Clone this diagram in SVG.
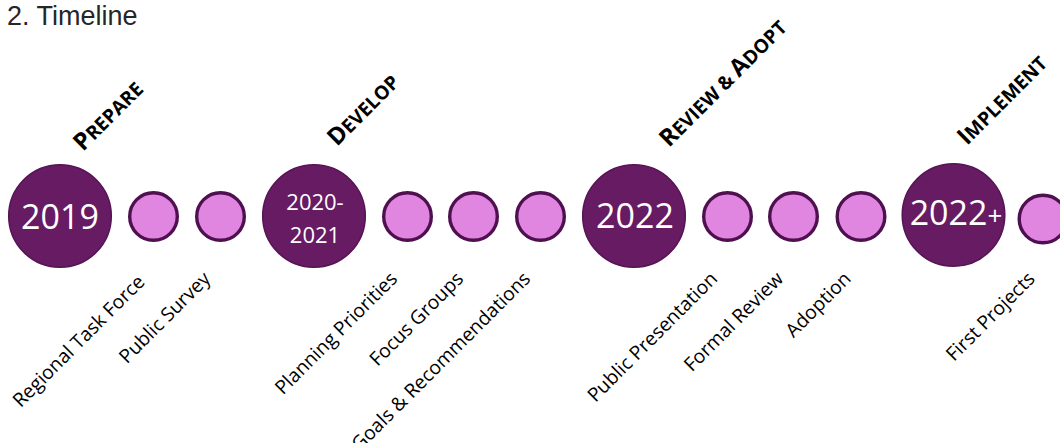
<svg xmlns="http://www.w3.org/2000/svg" width="1060" height="443" viewBox="0 0 1060 443">
  <style>
    .title { font-family: "Liberation Sans", Arial, sans-serif; font-size: 27px; fill: #262626; }
    .year { fill: #661B63; stroke: #551454; stroke-width: 1.5; }
    .step { fill: #E086E0; stroke: #4E104E; stroke-width: 3.4; }
    .yt { font-family: "Open Sans", "Noto Sans", sans-serif; fill: #FFFFFF; text-anchor: middle; }
    .phase { font-family: "Open Sans", "Noto Sans", sans-serif; font-weight: 700; fill: #000000; }
    .cap { font-size: 24px; }
    .sc { font-size: 19.2px; }
    .lbl { font-family: "Open Sans", "Noto Sans", sans-serif; font-size: 19.3px; fill: #000000; text-anchor: end; }
  </style>

  <text class="title" x="7" y="25">2. Timeline</text>

  <!-- Phase 1: Prepare -->
  <g id="year-2019">
    <circle class="year" cx="60" cy="216" r="51.3"/>
    <text class="yt" x="60" y="228.5" font-size="34">2019</text>
    <text class="phase" x="83" y="152" transform="rotate(-45 83 152)"><tspan class="cap">P</tspan><tspan class="sc">REPARE</tspan></text>
  </g>
  <g id="step-regional-task-force">
    <circle class="step" cx="153.5" cy="216.5" r="23.8"/>
    <text class="lbl" x="146" y="283" transform="rotate(-45 146 283)">Regional Task Force</text>
  </g>
  <g id="step-public-survey">
    <circle class="step" cx="220.5" cy="216.5" r="23.8"/>
    <text class="lbl" x="211.5" y="280" transform="rotate(-45 211.5 280)">Public Survey</text>
  </g>

  <!-- Phase 2: Develop -->
  <g id="year-2020-2021">
    <circle class="year" cx="314" cy="216" r="51.3"/>
    <text class="yt" x="315" y="210" font-size="22">2020-</text>
    <text class="yt" x="315" y="243" font-size="22">2021</text>
    <text class="phase" x="337" y="147" transform="rotate(-45 337 147)"><tspan class="cap">D</tspan><tspan class="sc">EVELOP</tspan></text>
  </g>
  <g id="step-planning-priorities">
    <circle class="step" cx="407.5" cy="216.5" r="23.8"/>
    <text class="lbl" x="398.5" y="280" transform="rotate(-45 398.5 280)">Planning Priorities</text>
  </g>
  <g id="step-focus-groups">
    <circle class="step" cx="473.5" cy="216.5" r="23.8"/>
    <text class="lbl" x="464.5" y="280" transform="rotate(-45 464.5 280)">Focus Groups</text>
  </g>
  <g id="step-goals-recommendations">
    <circle class="step" cx="540.5" cy="216.5" r="23.8"/>
    <text class="lbl" x="531.5" y="280" transform="rotate(-45 531.5 280)">Goals &amp; Recommendations</text>
  </g>

  <!-- Phase 3: Review & Adopt -->
  <g id="year-2022">
    <circle class="year" cx="634" cy="216" r="51.3"/>
    <text class="yt" x="635" y="228" font-size="34">2022</text>
    <text class="phase" x="669" y="148" transform="rotate(-45 669 148)"><tspan class="cap">R</tspan><tspan class="sc">EVIEW &amp; </tspan><tspan class="cap">A</tspan><tspan class="sc">DOPT</tspan></text>
  </g>
  <g id="step-public-presentation">
    <circle class="step" cx="727.5" cy="216.5" r="23.8"/>
    <text class="lbl" x="718.5" y="280" transform="rotate(-45 718.5 280)">Public Presentation</text>
  </g>
  <g id="step-formal-review">
    <circle class="step" cx="793.5" cy="216.5" r="23.8"/>
    <text class="lbl" x="784.5" y="280" transform="rotate(-45 784.5 280)">Formal Review</text>
  </g>
  <g id="step-adoption">
    <circle class="step" cx="861" cy="216.5" r="23.8"/>
    <text class="lbl" x="852" y="280" transform="rotate(-45 852 280)">Adoption</text>
  </g>

  <!-- Phase 4: Implement -->
  <g id="year-2022-plus">
    <circle class="year" cx="953.5" cy="215" r="51.3"/>
    <text class="yt" x="956" y="225" font-size="34">2022<tspan font-size="26">+</tspan></text>
    <text class="phase" x="967" y="146" transform="rotate(-45 967 146)"><tspan class="cap">I</tspan><tspan class="sc">MPLEMENT</tspan></text>
  </g>
  <g id="step-first-projects">
    <circle class="step" cx="1043" cy="219" r="23.8"/>
    <text class="lbl" x="1036" y="280" transform="rotate(-45 1036 280)">First Projects</text>
  </g>
</svg>
